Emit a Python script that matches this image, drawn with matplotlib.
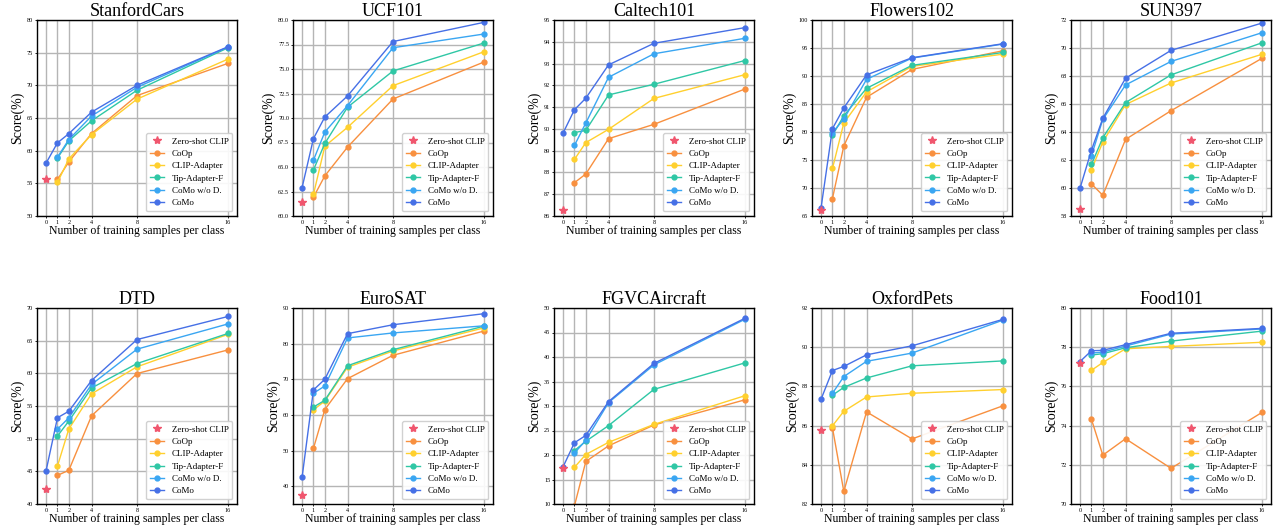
import matplotlib
matplotlib.use("Agg")
import matplotlib.pyplot as plt
from matplotlib.ticker import FormatStrFormatter
import numpy as np

plt.rcParams['font.family'] = ['Liberation Serif', 'DejaVu Serif']

# few-shot settings
shots = [1, 2, 4, 8, 16]
x_ticks = [0, 1, 2, 4, 8, 16]

datasets = ["StanfordCars", "UCF101", "Caltech101", "Flowers102", "SUN397",
            "DTD", "EuroSAT", "FGVCAircraft", "OxfordPets", "Food101"]

zs_clip = [55.61, 61.46, 86.29, 66.14, 58.52, 42.32, 37.56, 17.28, 85.77, 77.2]

coop = [
    [55.59, 58.28, 62.62, 68.43, 73.36],
    [61.92, 64.09, 67.03, 71.94, 75.71],
    [87.53, 87.93, 89.55, 90.21, 91.83],
    [68.12, 77.51, 86.20, 91.18, 94.51],
    [60.29, 59.48, 63.47, 65.52, 69.26],
    [44.39, 45.15, 53.49, 59.97, 63.58],
    [50.63, 61.50, 70.18, 76.73, 83.53],
    [9.64, 18.68, 21.87, 26.13, 31.26],
    [85.89, 82.64, 86.70, 85.32, 87.01],
    [74.32, 72.49, 73.33, 71.82, 74.67],
]

clip_adapter = [
    [55.13, 58.74, 62.45, 67.89, 74.01],
    [62.20, 67.12, 69.05, 73.30, 76.76],
    [88.60, 89.37, 89.98, 91.40, 92.49],
    [73.49, 81.61, 87.17, 91.72, 93.90],
    [61.30, 63.29, 65.96, 67.50, 69.55],
    [45.80, 51.48, 56.86, 61.00, 65.96],
    [61.40, 63.90, 73.38, 77.93, 84.43],
    [17.49, 20.10, 22.59, 26.25, 32.10],
    [85.99, 86.73, 87.46, 87.65, 87.84],
    [76.82, 77.22, 77.92, 78.04, 78.25],
]

tip_adapter_f = [
    [58.86, 61.50, 64.57, 69.25, 75.74],
    [64.7, 67.4, 71.1, 74.8, 77.65],
    [89.83, 89.93, 91.56, 92.05, 93.14],
    [79.4, 82.9, 87.8, 91.9, 94.2],
    [61.68, 63.59, 66.1, 68.08, 70.37],
    [50.4, 52.7, 57.75, 61.5, 66.1],
    [62.2, 64.1, 73.8, 78.3, 84.9],
    [20.9, 22.8, 26.0, 33.4, 38.8],
    [87.55, 87.95, 88.43, 89.05, 89.3],
    [77.6, 77.67, 77.97, 78.31, 78.82],
]

como_wo_d = [
    [59.0, 61.7, 65.3, 69.7, 75.85],
    [65.7, 68.56, 71.26, 77.17, 78.57],
    [89.24, 90.27, 92.37, 93.45, 94.16],
    [79.9, 82.3, 89.4, 93.2, 95.7],
    [62.3, 64.9, 67.36, 69.04, 71.09],
    [51.45, 53.2, 58.3, 63.7, 67.56],
    [66.1, 68.1, 81.6, 83.0, 85.0],
    [20.4, 23.0, 30.7, 38.4, 47.7],
    [87.65, 88.5, 89.28, 89.7, 91.38],
    [77.7, 77.75, 78.06, 78.67, 78.93],
]

# CoMo also has a 0-shot value
como = [
    [58.1, 61.2, 62.6, 65.9, 70.0, 75.9],
    [62.9, 67.9, 70.1, 72.25, 77.8, 79.76],
    [89.81, 90.88, 91.41, 92.94, 93.93, 94.65],
    [66.5, 80.6, 84.3, 90.2, 93.26, 95.76],
    [60.0, 62.7, 64.98, 67.84, 69.83, 71.78],
    [45.1, 53.2, 54.2, 58.9, 65.17, 68.7],
    [42.5, 67.0, 70.0, 82.8, 85.3, 88.4],
    [17.6, 22.5, 24.0, 30.9, 38.7, 47.9],
    [87.35, 88.81, 89.02, 89.61, 90.07, 91.42],
    [77.27, 77.82, 77.84, 78.13, 78.71, 78.96],
]

# y axis ranges: (low, high, step)
y_ranges = [(50, 80, 5), (60, 80, 2.5), (86, 95, 1), (65, 100, 5), (58, 72, 2),
            (40, 70, 5), (35, 90, 10), (10, 50, 5), (82, 92, 2), (70, 80, 2)]

colors = {
    "zs": "#f0566e",
    "coop": "#f8903f",
    "clip": "#ffd02e",
    "tip": "#2fc7a5",
    "wod": "#3aa6f2",
    "como": "#4670e6",
}

W, H = 1275, 531
fig = plt.figure(figsize=(W / 100, H / 100), dpi=100)

lefts = [37, 293, 554, 812, 1071]
tops = [20, 308]
aw, ah = 200, 196

for i, name in enumerate(datasets):
    row, col = divmod(i, 5)
    ax = fig.add_axes([lefts[col] / W, 1 - (tops[row] + ah) / H, aw / W, ah / H])

    lw, ms = 1.0, 3.5
    ax.plot([0], [zs_clip[i]], linestyle='none', marker='*', color=colors["zs"],
            markersize=6, label="Zero-shot CLIP", zorder=5)
    ax.plot(shots, coop[i], '-o', color=colors["coop"], lw=lw, ms=ms, label="CoOp")
    ax.plot(shots, clip_adapter[i], '-o', color=colors["clip"], lw=lw, ms=ms, label="CLIP-Adapter")
    ax.plot(shots, tip_adapter_f[i], '-o', color=colors["tip"], lw=lw, ms=ms, label="Tip-Adapter-F")
    ax.plot(shots, como_wo_d[i], '-o', color=colors["wod"], lw=lw, ms=ms, label="CoMo w/o D.")
    ax.plot(x_ticks, como[i], '-o', color=colors["como"], lw=lw, ms=ms, label="CoMo")

    lo, hi, step = y_ranges[i]
    ax.set_ylim(lo, hi)
    first = lo if name != "EuroSAT" else 40
    ax.set_yticks(np.arange(first, hi + step / 2, step))
    if name == "UCF101":
        ax.yaxis.set_major_formatter(FormatStrFormatter('%.1f'))
    ax.set_xlim(-0.8, 16.8)
    ax.set_xticks(x_ticks)
    ax.tick_params(labelsize=4.5, length=1.5, width=0.6, pad=1.2)
    ax.grid(True, color='#b5b5b5', linewidth=1.0)
    ax.set_axisbelow(True)
    for s in ax.spines.values():
        s.set_linewidth(1.0)

    ax.set_title(name, fontsize=13, pad=3)
    ax.set_ylabel("Score(%)", fontsize=10, labelpad=2)
    ax.set_xlabel("Number of training samples per class", fontsize=8.5, labelpad=0)
    ax.legend(loc='lower right', fontsize=6.5, handlelength=1.6, labelspacing=0.45,
              borderpad=0.45, handletextpad=0.8, framealpha=0.9)

fig.savefig("out.png", dpi=100)
plt.close(fig)
